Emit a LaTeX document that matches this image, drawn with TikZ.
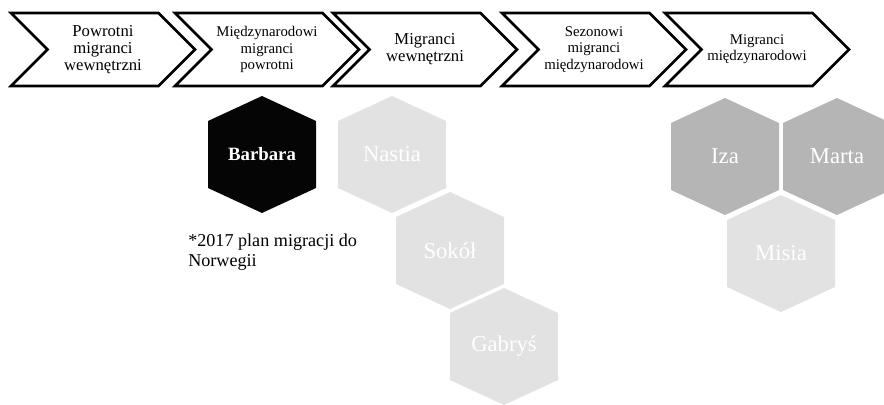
\documentclass[tikz,border=0pt]{standalone}
\usepackage{fontspec}
\setmainfont{Liberation Serif}
\usetikzlibrary{shapes.symbols, calc}
\definecolor{color1}{RGB}{5,5,5}
\definecolor{color2}{RGB}{181,181,181}
\definecolor{color3}{RGB}{226,226,226}
\newcommand{\duzy}{\fontsize{12.5}{12.75}\selectfont}
\newcommand{\maly}{\fontsize{11.1}{12.2}\selectfont}

\tikzset{
  etap/.style={signal, signal from=west, signal to=east, signal pointer angle=90,
    draw=black, line width=2pt, fill=white, inner sep=0pt, align=center,
    minimum width=138pt, minimum height=54.75pt},
  heks/.style={minimum width=81pt, minimum height=87.75pt, inner sep=0pt, text=white,
    font=\fontsize{17}{20}\selectfont,
    path picture={\fill[#1] (path picture bounding box.north)
      -- ([yshift=-18.75pt]path picture bounding box.north east)
      -- ([yshift=18.75pt]path picture bounding box.south east)
      -- (path picture bounding box.south)
      -- ([yshift=18.75pt]path picture bounding box.south west)
      -- ([yshift=-18.75pt]path picture bounding box.north west) -- cycle;}},
}

\begin{document}
\begin{tikzpicture}[x=0.75pt,y=-0.75pt]
		\useasboundingbox (0,0) rectangle (884,404);
		% etapy migracji
		\node[etap, font=\duzy] (powrotni) at (103,49.5) {Powrotni\\migranci\\wewnętrzni};
		\node[etap, font=\maly] (miedzypowrot) at (267,49.5) {Międzynarodowi\\migranci\\powrotni};
		\node[etap, font=\duzy] (wewnetrzni) at (425,49.5) {Migranci\\wewnętrzni};
		\node[etap, font=\maly] (sezonowi) at (594,49.5) {Sezonowi\\migranci\\międzynarodowi};
		\node[etap, font=\maly] (miedzy) at (757,49.5) {Migranci\\międzynarodowi};
		
		% osoby
		\node[heks=color1, font=\fontsize{14.1}{16}\selectfont\bfseries] (barbara) at (262,154.5) {Barbara};
		\node[heks=color3] (nastia) at (392,154.5) {Nastia};
		\node[heks=color3] (sokol) at (450,250.5) {Sokół};
		\node[heks=color3] (gabrys) at (504,346.5) {Gabryś};
		\node[heks=color2] (iza) at (725,156.5) {Iza};
		\node[heks=color2] (marta) at (837,156.5) {Marta};
		\node[heks=color3] (misia) at (781,253.5) {Misia};
		
		\node[anchor=west, align=left, inner sep=0pt, font=\fontsize{13.6}{15}\selectfont] (plan) at (188,252) {*2017 plan migracji do\\Norwegii};
		
		\end{tikzpicture}
\end{document}
